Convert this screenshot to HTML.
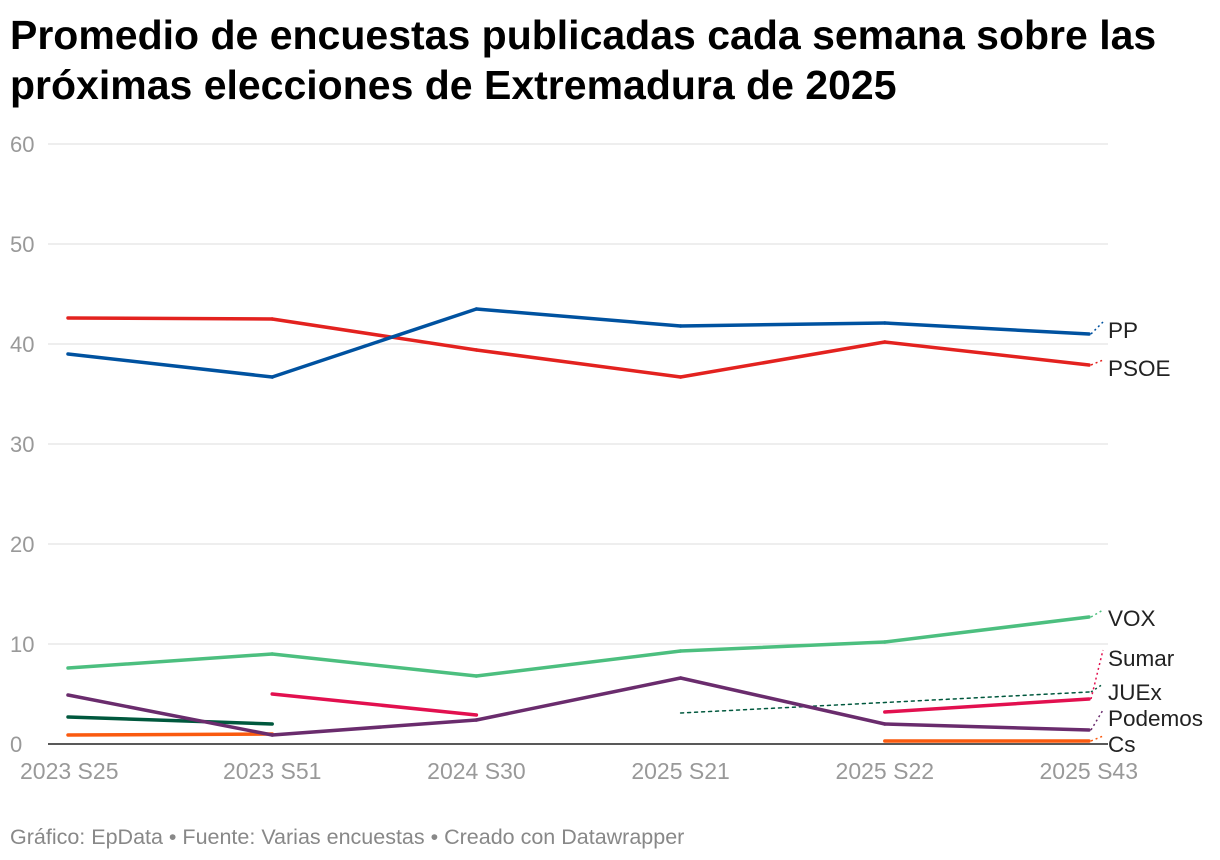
<!DOCTYPE html>
<html><head><meta charset="utf-8"><style>
body{margin:0;background:#fff;font-family:"Liberation Sans",sans-serif;}
#t{position:absolute;left:10px;top:10px;font-size:41px;font-weight:bold;line-height:50px;color:#000;letter-spacing:0;white-space:nowrap}
#f{position:absolute;left:10px;top:825px;font-size:21.5px;color:#888}
svg{position:absolute;left:0;top:0}
</style></head><body>
<div id="t">Promedio de encuestas publicadas cada semana sobre las<br>próximas elecciones de Extremadura de 2025</div>
<svg id="c" width="1220" height="860"></svg>
<div id="f">Gráfico: EpData • Fuente: Varias encuestas • Creado con Datawrapper</div>
<script>
const categories=["2023 S25","2023 S51","2024 S30","2025 S21","2025 S22","2025 S43"];
const yTicks=[0,10,20,30,40,50,60];
const pp=[39.0,36.7,43.5,41.8,42.1,41.0];
const psoe=[42.6,42.5,39.4,36.7,40.2,37.9];
const vox=[7.6,9.0,6.8,9.3,10.2,12.7];
const podemos=[4.9,0.9,2.4,6.6,2.0,1.4];
const sumar=[null,5.0,2.9,null,3.2,4.5];
const juex=[2.7,2.0,null,3.1,null,5.2];
const cs=[0.9,1.0,null,null,0.3,0.3];
const series=[
 {name:"VOX",v:vox,c:"#4cbf7f",ly:618},
 {name:"JUEx",v:juex,c:"#00583d",ly:692,dotFrom:3},
 {name:"Cs",v:cs,c:"#fa5a0f",ly:744},
 {name:"Sumar",v:sumar,c:"#e2104f",ly:658},
 {name:"Podemos",v:podemos,c:"#6a2c6d",ly:718},
 {name:"PSOE",v:psoe,c:"#e3221f",ly:368},
 {name:"PP",v:pp,c:"#0052a0",ly:330}
];
const X=i=>68+i*(1089-68)/5;
const Y=v=>744-v*10;
const s=document.getElementById('c');const NS="http://www.w3.org/2000/svg";
function mk(t,a){const e=document.createElementNS(NS,t);for(const k in a)e.setAttribute(k,a[k]);s.appendChild(e);return e;}
yTicks.forEach(t=>{
 const l=mk('line',{x1:48,x2:1108,y1:Y(t),y2:Y(t),stroke:t==0?'#222':'#ddd','stroke-width':t==0?1.5:1});
 
 
 const tx=mk('text',{x:10,y:Y(t)+8,'font-size':22,fill:'#999'});tx.textContent=t;
 
 
});
categories.forEach((c,i)=>{
 const anchor=i==0?'start':(i==5?'end':'middle');
 const x=i==0?20:(i==5?1138:X(i));
 const tx=mk('text',{x:x,y:779,'font-size':23,fill:'#999','text-anchor':anchor});tx.textContent=c;
 
 
});
series.forEach(se=>{
 let prev=null;
 se.v.forEach((v,i)=>{
  if(v==null)return;
  if(prev!=null){
   const gap=i-prev>1;
   const dotted=gap&&se.dotFrom!==undefined&&prev>=se.dotFrom;
   if(!gap||dotted){
    const l=mk('line',{x1:X(prev),y1:Y(se.v[prev]),x2:X(i),y2:Y(v),stroke:se.c,'stroke-width':dotted?1.5:3.5,'stroke-dasharray':dotted?'3,4':'none','stroke-linecap':'round'});
    
    
   }
  }
  prev=i;
 });
 const last=se.v[5];
 const cl=mk('line',{x1:1091,y1:Y(last),x2:1103,y2:se.ly-8,stroke:se.c,'stroke-width':1.5,'stroke-dasharray':'2,3'});
 
 
 const tx=mk('text',{x:1108,y:se.ly+8,'font-size':22.5,fill:'#222'});tx.textContent=se.name;
 
 
});
</script>
</body></html>
